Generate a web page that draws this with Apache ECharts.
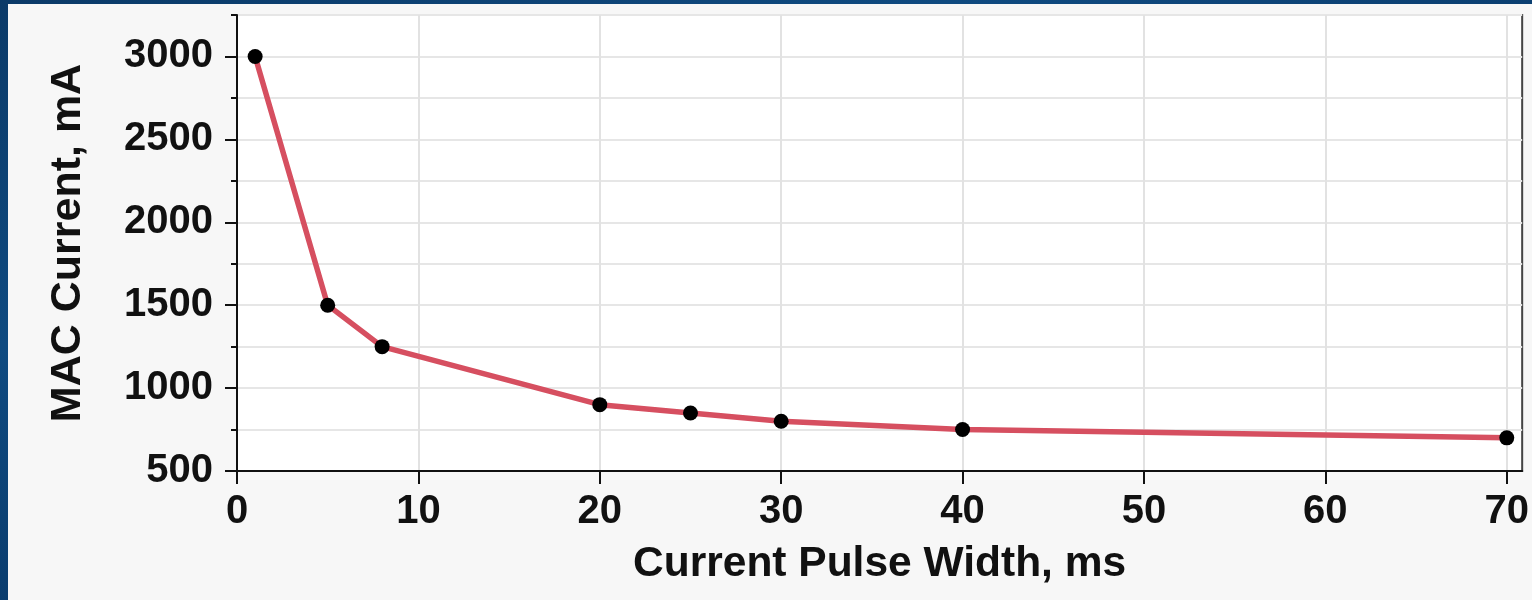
<!DOCTYPE html>
<html>
<head>
<meta charset="utf-8">
<script src="https://cdn.jsdelivr.net/npm/echarts@6/dist/echarts.min.js"></script>
<style>
  html, body { margin: 0; padding: 0; }
  body {
    width: 1532px; height: 600px; overflow: hidden; position: relative;
    background: linear-gradient(160deg, #0b3a68 0%, #0f4a80 30%, #0a3b6c 55%, #1a5a92 75%, #0a3a6a 100%);
  }
  #chart {
    position: absolute; left: 8px; top: 4px; width: 1524px; height: 596px;
    background: #f7f7f7;
  }
</style>
</head>
<body>
<div id="chart"></div>
<script>
// Maximum allowable current vs. pulse width
const pulseWidth = [1, 5, 8, 20, 25, 30, 40, 70];
const macCurrent = [3000, 1500, 1250, 900, 850, 800, 750, 700];
const xTicks = [0, 10, 20, 30, 40, 50, 60, 70];
const yTicks = [500, 1000, 1500, 2000, 2500, 3000];

const FONT = 'Liberation Sans, Arial, sans-serif';
const points = pulseWidth.map((x, i) => [x, macCurrent[i]]);

const chart = echarts.init(document.getElementById('chart'), null, { renderer: 'canvas' });

const labelStyle = {
  fontFamily: FONT, fontWeight: 'bold', fontSize: 40, color: '#111',
  formatter: (v) => String(v)
};

chart.setOption({
  animation: false,
  grid: {
    left: 229, right: 9, top: 11, bottom: 129,
    show: true, backgroundColor: '#ffffff',
    borderColor: '#444', borderWidth: 2
  },
  xAxis: {
    type: 'value', min: 0, max: 70.85, interval: 10,
    name: 'Current Pulse Width, ms', nameLocation: 'middle', nameGap: 72,
    nameTextStyle: { fontFamily: FONT, fontWeight: 'bold', fontSize: 42.5, color: '#111' },
    axisLine: { show: true, onZero: false, lineStyle: { color: '#111', width: 2 } },
    axisTick: { show: true, length: 13, lineStyle: { color: '#111', width: 2 }, customValues: xTicks },
    axisLabel: Object.assign({ margin: 21, customValues: xTicks }, labelStyle),
    splitLine: { show: true, lineStyle: { color: '#e2e2e2', width: 2 } }
  },
  yAxis: [
    {
      // fine grid and short ticks every 250 mA
      type: 'value', min: 500, max: 3250, interval: 250,
      axisLine: { show: true, onZero: false, lineStyle: { color: '#111', width: 2 } },
      axisTick: { show: true, length: 6, lineStyle: { color: '#111', width: 2 } },
      axisLabel: { show: false },
      splitLine: { show: true, lineStyle: { color: '#e6e6e6', width: 2 } }
    },
    {
      // labelled major ticks every 500 mA
      type: 'value', min: 500, max: 3250, interval: 500, position: 'left',
      name: 'MAC Current, mA', nameLocation: 'middle', nameGap: 147,
      nameTextStyle: { fontFamily: FONT, fontWeight: 'bold', fontSize: 43, color: '#111' },
      axisLine: { show: false },
      axisTick: { show: true, length: 12, lineStyle: { color: '#111', width: 2 }, customValues: yTicks },
      axisLabel: Object.assign({ margin: 24, customValues: yTicks }, labelStyle),
      splitLine: { show: false }
    }
  ],
  series: [{
    type: 'line',
    yAxisIndex: 0,
    data: points,
    lineStyle: { color: '#d64f60', width: 5.5 },
    symbol: 'circle', symbolSize: 15,
    itemStyle: { color: '#000' },
    z: 3
  }]
});
</script>
</body>
</html>
